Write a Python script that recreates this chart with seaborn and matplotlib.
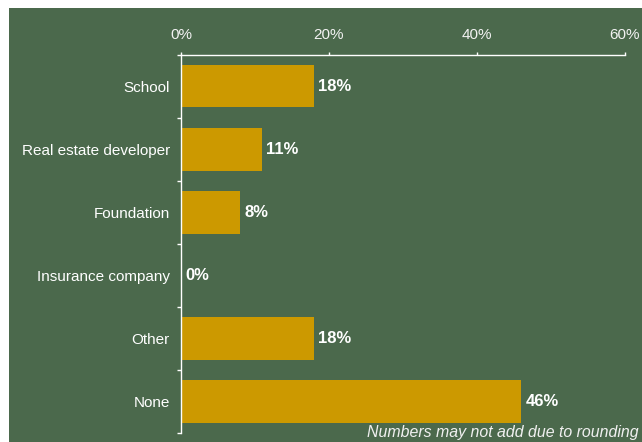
import matplotlib
matplotlib.use("Agg")
import matplotlib.pyplot as plt
from matplotlib.patches import Rectangle
from matplotlib.ticker import FixedLocator
import seaborn as sns
import pandas as pd

categories = ["School", "Real estate developer", "Foundation",
              "Insurance company", "Other", "None"]
values = [18, 11, 8, 0, 18, 46]
x_ticks = [0, 20, 40, 60]
x_tick_labels = ["0%", "20%", "40%", "60%"]
footnote = "Numbers may not add due to rounding"

BG = "#4b694c"
BAR = "#cc9900"
FONT = ["Liberation Sans", "DejaVu Sans"]

sns.set_theme(style="white")
plt.rcParams["font.family"] = FONT

W, H = 642, 442
fig = plt.figure(figsize=(W / 100, H / 100), dpi=100, facecolor="white")
# green panel leaving a thin white strip at the top and left
fig.patches.append(Rectangle((9 / W, 0), 1 - 9 / W, 1 - 8 / H,
                             transform=fig.transFigure, facecolor=BG,
                             edgecolor="none", zorder=-10))

top_px, bottom_px = 54.5, 433
ax = fig.add_axes([181 / W, 1 - bottom_px / H, (625 - 181) / W,
                   (bottom_px - top_px) / H])
ax.set_facecolor("none")

df = pd.DataFrame({"category": categories, "value": values})
sns.barplot(data=df, x="value", y="category", orient="h", color=BAR,
            saturation=1, width=0.68, edgecolor="none", linewidth=0, ax=ax)

ax.set_xlim(0, 60)
ax.set_ylim(len(categories) - 0.5, -0.5)
ax.set_xlabel("")
ax.set_ylabel("")

# value axis along the top
ax.xaxis.tick_top()
ax.set_xticks(x_ticks)
ax.set_xticklabels(x_tick_labels)
ax.tick_params(axis="x", which="major", direction="out", length=2.5, width=1,
               color="white", labelcolor="#f2f2f2", labelsize=11, pad=6.5,
               top=True, bottom=False)

# category axis: labels centred, ticks on the boundaries between bars
ax.tick_params(axis="y", which="major", length=0, pad=8,
               labelcolor="white", labelsize=11)
ax.yaxis.set_minor_locator(FixedLocator([i - 0.5 for i in range(len(categories) + 1)]))
ax.tick_params(axis="y", which="minor", direction="out", length=3, width=1,
               color="white", left=True)

for side in ("right", "bottom"):
    ax.spines[side].set_visible(False)
for side in ("top", "left"):
    ax.spines[side].set_color("white")
    ax.spines[side].set_linewidth(1)

for i, v in enumerate(values):
    ax.text(v + 0.55, i, f"{v}%", va="center", ha="left", color="white",
            fontsize=12, fontweight="bold")

fig.text(639 / W, 1 - 437.5 / H, footnote, ha="right", va="baseline",
         color="#f0f0f0", fontsize=11.4, fontstyle="italic")

fig.savefig("out.png", dpi=100, facecolor=fig.get_facecolor())
